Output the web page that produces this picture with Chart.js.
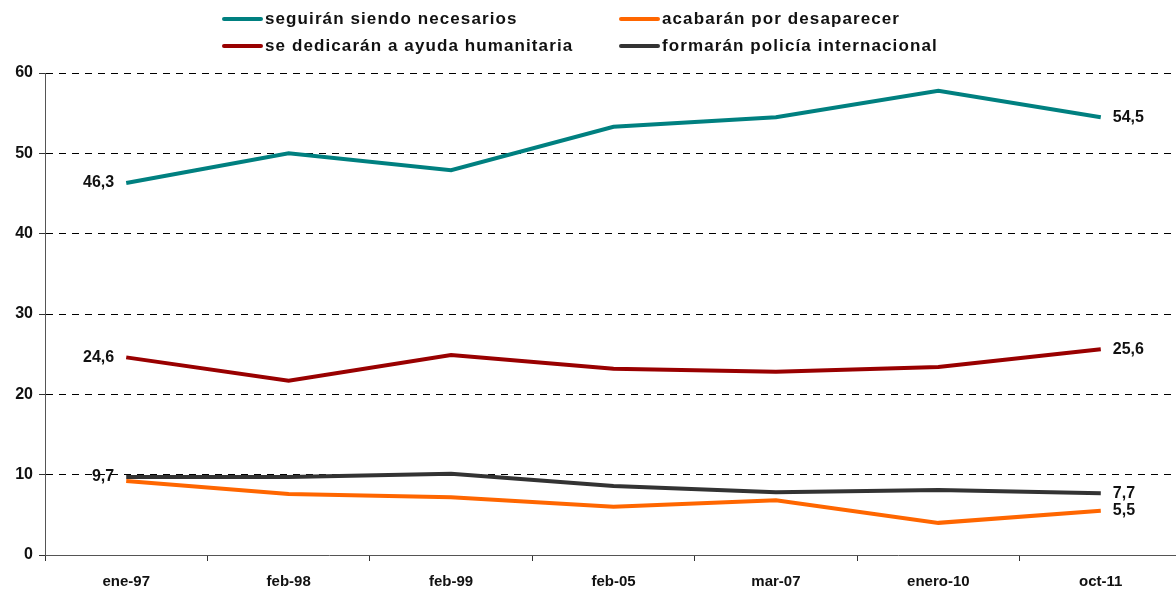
<!DOCTYPE html>
<html lang="es">
<head>
  <meta charset="UTF-8">
  <title>Futuro de las fuerzas armadas</title>
  <script src="https://cdn.jsdelivr.net/npm/chart.js"></script>
  <style>
    html, body {
      margin: 0;
      padding: 0;
      background: #fff;
      overflow: hidden;
      font-family: "Liberation Sans", Arial, sans-serif;
    }
    .legend {
      position: absolute;
      left: 222px;
      top: 5px;
      display: grid;
      grid-template-columns: 397px 330px;
      grid-auto-rows: 27px;
      font-weight: bold;
      font-size: 17px;
      letter-spacing: 1.1px;
      color: #111;
    }
    .legend span.item {
      display: flex;
      align-items: center;
      white-space: nowrap;
    }
    .legend span.swatch {
      display: inline-block;
      width: 41px;
      height: 4px;
      border-radius: 2px;
      margin-right: 2px;
    }
    .wrap {
      position: absolute;
      left: 0;
      top: 0;
      width: 1182px;
      height: 592px;
    }
  </style>
</head>
<body>
  <div class="wrap"><canvas id="chart"></canvas></div>
  <div class="legend" id="legend"></div>

  <script>
    const categories = ['ene-97', 'feb-98', 'feb-99', 'feb-05', 'mar-07', 'enero-10', 'oct-11'];
    const seriesNames = [
      'seguirán siendo necesarios',
      'acabarán por desaparecer',
      'se dedicarán a ayuda humanitaria',
      'formarán policía internacional'
    ];
    const necesarios = [46.3, 50.0, 47.9, 53.3, 54.5, 57.8, 54.5];
    const desaparecer = [9.2, 7.6, 7.2, 6.0, 6.8, 4.0, 5.5];
    const humanitaria = [24.6, 21.7, 24.9, 23.2, 22.8, 23.4, 25.6];
    const policia = [9.7, 9.7, 10.1, 8.6, 7.8, 8.1, 7.7];
    const colors = ['#008080', '#ff6600', '#990000', '#333333'];
    const yTicks = [0, 10, 20, 30, 40, 50, 60];
    // which end points carry a value label: [first, last]
    const endLabels = [[true, true], [false, true], [true, true], [true, true]];

    const seriesValues = [necesarios, desaparecer, humanitaria, policia];

    const legendEl = document.getElementById('legend');
    seriesNames.forEach((name, i) => {
      const item = document.createElement('span');
      item.className = 'item';
      item.innerHTML = '<span class="swatch" style="background:' + colors[i] + '"></span>' + name;
      legendEl.appendChild(item);
    });

    const fmt = v => v.toFixed(1).replace('.', ',');

    const endLabelPlugin = {
      id: 'endLabels',
      afterDatasetsDraw(chart) {
        const ctx = chart.ctx;
        ctx.save();
        ctx.font = 'bold 16px "Liberation Sans", Arial, sans-serif';
        ctx.fillStyle = '#111';
        ctx.textBaseline = 'middle';
        chart.data.datasets.forEach((ds, i) => {
          const pts = chart.getDatasetMeta(i).data;
          const last = pts.length - 1;
          if (endLabels[i][0]) {
            ctx.textAlign = 'right';
            ctx.fillText(fmt(ds.data[0]), pts[0].x - 12, pts[0].y);
          }
          if (endLabels[i][1]) {
            ctx.textAlign = 'left';
            ctx.fillText(fmt(ds.data[last]), pts[last].x + 12, pts[last].y);
          }
        });
        ctx.restore();
      }
    };

    new Chart(document.getElementById('chart'), {
      type: 'line',
      data: {
        labels: categories,
        datasets: seriesValues.map((vals, i) => ({
          label: seriesNames[i],
          data: vals,
          borderColor: colors[i],
          backgroundColor: colors[i],
          borderWidth: 4,
          pointRadius: 0,
          tension: 0,
          fill: false
        }))
      },
      options: {
        responsive: true,
        maintainAspectRatio: false,
        animation: false,
        layout: { padding: { top: 73, left: 0, right: 0, bottom: 0 } },
        plugins: {
          legend: { display: false },
          tooltip: { enabled: false }
        },
        scales: {
          x: {
            offset: true,
            afterFit: s => { s.height = 37; },
            grid: {
              offset: true,
              drawOnChartArea: false,
              tickLength: 6,
              color: '#333'
            },
            border: { color: '#555', width: 1 },
            ticks: {
              color: '#111',
              padding: 12,
              maxRotation: 0,
              font: { family: '"Liberation Sans", Arial, sans-serif', size: 15, weight: 'bold' }
            }
          },
          y: {
            min: 0,
            max: 60,
            afterFit: s => { s.width = 45; },
            afterBuildTicks: s => { s.ticks = yTicks.map(v => ({ value: v })); },
            grid: {
              color: '#000',
              lineWidth: 1,
              tickLength: 6,
              tickBorderDash: [],
              tickColor: '#333'
            },
            border: { color: '#555', width: 1, dash: [7, 6] },
            ticks: {
              color: '#111',
              padding: 6,
              font: { family: '"Liberation Sans", Arial, sans-serif', size: 16, weight: 'bold' }
            }
          }
        }
      },
      plugins: [endLabelPlugin]
    });
  </script>
</body>
</html>
